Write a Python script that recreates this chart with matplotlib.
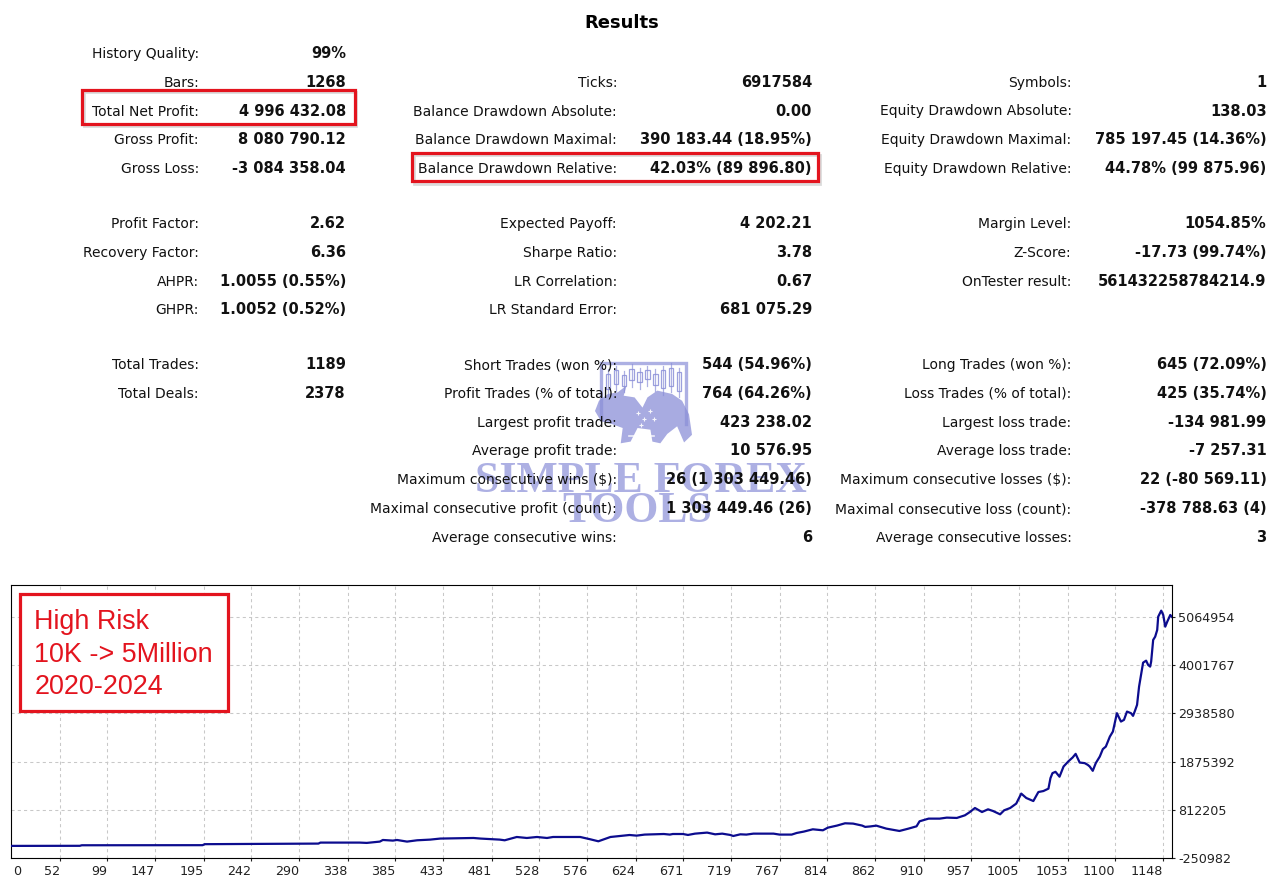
import matplotlib
matplotlib.use("Agg")
import matplotlib.pyplot as plt
from matplotlib.patches import Rectangle, Polygon

# ---------------- data ----------------
title = "Results"

col1_labels = ["History Quality:", "Bars:", "Total Net Profit:", "Gross Profit:", "Gross Loss:",
               "Profit Factor:", "Recovery Factor:", "AHPR:", "GHPR:",
               "Total Trades:", "Total Deals:", "", "", "", "", ""]
col1_values = ["99%", "1268", "4 996 432.08", "8 080 790.12", "-3 084 358.04",
               "2.62", "6.36", "1.0055 (0.55%)", "1.0052 (0.52%)",
               "1189", "2378", "", "", "", "", ""]

col2_labels = ["", "Ticks:", "Balance Drawdown Absolute:", "Balance Drawdown Maximal:",
               "Balance Drawdown Relative:",
               "Expected Payoff:", "Sharpe Ratio:", "LR Correlation:", "LR Standard Error:",
               "Short Trades (won %):", "Profit Trades (% of total):", "Largest profit trade:",
               "Average profit trade:", "Maximum consecutive wins ($):",
               "Maximal consecutive profit (count):", "Average consecutive wins:"]
col2_values = ["", "6917584", "0.00", "390 183.44 (18.95%)", "42.03% (89 896.80)",
               "4 202.21", "3.78", "0.67", "681 075.29",
               "544 (54.96%)", "764 (64.26%)", "423 238.02", "10 576.95",
               "26 (1 303 449.46)", "1 303 449.46 (26)", "6"]

col3_labels = ["", "Symbols:", "Equity Drawdown Absolute:", "Equity Drawdown Maximal:",
               "Equity Drawdown Relative:",
               "Margin Level:", "Z-Score:", "OnTester result:", "",
               "Long Trades (won %):", "Loss Trades (% of total):", "Largest loss trade:",
               "Average loss trade:", "Maximum consecutive losses ($):",
               "Maximal consecutive loss (count):", "Average consecutive losses:"]
col3_values = ["", "1", "138.03", "785 197.45 (14.36%)", "44.78% (99 875.96)",
               "1054.85%", "-17.73 (99.74%)", "561432258784214.9", "",
               "645 (72.09%)", "425 (35.74%)", "-134 981.99", "-7 257.31",
               "22 (-80 569.11)", "-378 788.63 (4)", "3"]

highlight_rows = [("col1", 2), ("col2", 4)]

note_lines = ["High Risk", "10K -> 5Million", "2020-2024"]
watermark_lines = ["SIMPLE FOREX", "TOOLS"]

# equity curve (deal index, balance)
deal = [4, 72, 74, 194, 196, 309, 311, 350, 357, 370, 373, 383, 387, 397, 407, 420, 430,
        463, 470, 489, 494, 506, 516, 526, 536, 542, 569, 579, 587, 599, 618, 625, 633,
        652, 658, 661, 671, 676, 683, 695, 703, 710, 718, 721, 728, 734, 741, 761, 767,
        779, 784, 791, 800, 810, 815, 824, 832, 840, 849, 852, 857, 863, 873, 886, 895,
        903, 906, 915, 926, 933, 943, 951, 956, 961, 968, 974, 979, 986, 990, 996, 1002,
        1007, 1012, 1019, 1024, 1029, 1034, 1036, 1038, 1041, 1045, 1049, 1054, 1058,
        1061, 1065, 1070, 1073, 1075, 1078, 1081, 1085, 1088, 1091, 1095, 1098, 1102,
        1106, 1109, 1112, 1116, 1118, 1120, 1122, 1124, 1126, 1128, 1131, 1133, 1135,
        1136, 1138, 1140, 1142, 1143, 1146, 1148, 1150, 1152, 1155, 1157]
balance = [10000, 12000, 24000, 26000, 48000, 61000, 83000, 83000, 76000, 105000, 141000,
           127000, 141000, 105000, 134000, 149000, 172000, 185000, 172000, 149000, 134000,
           207000, 185000, 207000, 185000, 207000, 207000, 156000, 112000, 207000, 251000,
           237000, 260000, 273000, 260000, 273000, 273000, 252000, 281000, 304000, 266000,
           281000, 252000, 229000, 266000, 260000, 281000, 281000, 260000, 260000, 296000,
           326000, 377000, 355000, 414000, 459000, 510000, 503000, 459000, 430000, 440000,
           458000, 392000, 340000, 392000, 443000, 554000, 613000, 613000, 635000, 628000,
           686000, 759000, 848000, 759000, 819000, 781000, 708000, 797000, 848000, 945000,
           1166000, 1069000, 1002000, 1201000, 1223000, 1276000, 1508000, 1619000,
           1648000, 1540000, 1765000, 1884000, 1964000, 2045000, 1853000, 1840000,
           1802000, 1765000, 1670000, 1840000, 1986000, 2149000, 2206000, 2427000,
           2538000, 2944000, 2759000, 2796000, 2980000, 2944000, 2885000, 3002000,
           3128000, 3532000, 3790000, 4062000, 4106000, 4011000, 3974000, 4084000,
           4564000, 4636000, 4784000, 5078000, 5211000, 5116000, 4857000, 4968000,
           5116000, 5065000]

x_ticks = [0, 52, 99, 147, 195, 242, 290, 338, 385, 433, 481, 528, 576, 624, 671, 719,
           767, 814, 862, 910, 957, 1005, 1053, 1100, 1148]
y_ticks = [-250982, 812205, 1875392, 2938580, 4001767, 5064954]

# ---------------- layout ----------------
W, H = 1283, 896
def fx(x):
    return x / W
def fy(y):
    return 1 - y / H

fig = plt.figure(figsize=(W / 100, H / 100), dpi=100)
fig.patch.set_facecolor("white")

row_baselines = [58.3, 86.9, 115.5, 144.3, 173.2, 228.3, 256.9, 285.5, 314.1,
                 369.0, 397.7, 426.6, 455.3, 484.2, 513.2, 542.1]
cols = {
    "col1": (col1_labels, col1_values, 199, 346),
    "col2": (col2_labels, col2_values, 617, 812),
    "col3": (col3_labels, col3_values, 1071.5, 1266.5),
}

fig.text(fx(622), fy(28), title, ha="center", va="baseline", fontsize=13,
         fontweight="bold", color="black", zorder=4)

for key, (labs, vals, lx, vx) in cols.items():
    for i, (lab, val) in enumerate(zip(labs, vals)):
        if lab:
            fig.text(fx(lx), fy(row_baselines[i]), lab, ha="right", va="baseline",
                     fontsize=10, color="#111111", zorder=4)
        if val:
            fig.text(fx(vx), fy(row_baselines[i]), val, ha="right", va="baseline",
                     fontsize=10.5, fontweight="bold", color="#111111", zorder=4)

# red highlight boxes around rows
box_specs = {("col1", 2): (81.5, 90.5, 354.5, 124.5), ("col2", 4): (411.5, 153.3, 817.8, 181.5)}
red = "#e3141e"
for key in highlight_rows:
    x0, y0, x1, y1 = box_specs[key]
    fig.add_artist(Rectangle((fx(x0 + 2), fy(y1 + 2)), fx(x1 - x0), (y1 - y0) / H,
                             transform=fig.transFigure, facecolor="none",
                             edgecolor="#999999", lw=2.0, alpha=0.35, zorder=4))
    fig.add_artist(Rectangle((fx(x0), fy(y1)), fx(x1 - x0), (y1 - y0) / H,
                             transform=fig.transFigure, facecolor="none",
                             edgecolor=red, lw=2.3, zorder=5))

# watermark
wm_color = "#8b8fd8"
fig.text(fx(640.5), fy(492), watermark_lines[0], ha="center", va="baseline",
         fontsize=31.5, fontweight="bold", family="Liberation Serif",
         color=wm_color, alpha=0.7, zorder=2)
fig.text(fx(637.5), fy(522), watermark_lines[1], ha="center", va="baseline",
         fontsize=31.5, fontweight="bold", family="Liberation Serif",
         color=wm_color, alpha=0.7, zorder=2)

lax = fig.add_axes([fx(593), fy(445), (692 - 593) / W, (445 - 360) / H])
lax.set_xlim(0, 1)
lax.set_ylim(0, 1)
lax.axis("off")
lax.patch.set_alpha(0)
lax.set_zorder(1)
# frame
lax.plot([0.08, 0.08, 0.94, 0.94], [0.30, 0.97, 0.97, 0.25], color=wm_color, lw=2.4,
         alpha=0.7, solid_joinstyle="miter")
# candles
cx = [0.15, 0.23, 0.31, 0.39, 0.47, 0.55, 0.63, 0.71, 0.79, 0.87]
cb = [0.66, 0.72, 0.70, 0.76, 0.74, 0.78, 0.71, 0.67, 0.70, 0.64]
ct = [0.84, 0.88, 0.82, 0.90, 0.86, 0.88, 0.84, 0.88, 0.91, 0.86]
for x, b, t in zip(cx, cb, ct):
    lax.plot([x, x], [b - 0.08, t + 0.05], color=wm_color, lw=0.9, alpha=0.7)
    lax.add_patch(Rectangle((x - 0.022, b), 0.044, t - b, facecolor="white",
                            edgecolor=wm_color, lw=0.9, alpha=0.85))
bull = [(0.02, 0.40), (0.06, 0.52), (0.15, 0.60), (0.25, 0.62), (0.34, 0.70), (0.31, 0.58),
        (0.42, 0.56), (0.50, 0.44), (0.55, 0.56), (0.65, 0.64), (0.80, 0.60), (0.90, 0.52),
        (0.97, 0.36), (1.0, 0.12), (0.92, 0.03), (0.85, 0.22), (0.75, 0.13), (0.68, 0.02),
        (0.60, 0.04), (0.58, 0.18), (0.45, 0.20), (0.38, 0.04), (0.28, 0.02), (0.30, 0.20),
        (0.18, 0.25), (0.08, 0.28)]
lax.add_patch(Polygon(bull, closed=True, facecolor=wm_color, edgecolor="none", alpha=0.75))
for (sx, sy) in [(0.45, 0.38), (0.52, 0.30), (0.58, 0.40), (0.48, 0.24), (0.62, 0.30)]:
    lax.plot(sx, sy, marker="+", color="white", ms=3, mew=0.8, alpha=0.9)
lax.plot([0.36, 0.62], [0.10, 0.10], color="white", lw=1.2, alpha=0.8)

# ---------------- equity chart ----------------
ax = fig.add_axes([fx(11), fy(858), (1172.3 - 11) / W, (858 - 585) / H])
ax.plot(deal, balance, color="#0c0c8e", lw=1.6, zorder=3, solid_joinstyle="round")
ax.set_xlim(3.7, 1157)
ax.set_ylim(-257600, 5778500)

ax.set_xticks(x_ticks[1:])
ax.set_xticklabels([str(t) for t in x_ticks[1:]], ha="right")
ax.set_yticks(y_ticks)
ax.set_yticklabels([str(t) for t in y_ticks])
ax.yaxis.tick_right()
ax.tick_params(axis="x", direction="out", length=2.2, width=0.8, pad=2.6,
               labelsize=9.2, colors="#222222")
ax.tick_params(axis="y", direction="out", length=2.2, width=0.8, pad=2.2,
               labelsize=9.2, colors="#222222")
ax.annotate(str(x_ticks[0]), xy=(0, 0), xycoords="axes fraction", xytext=(1.5, -4.8),
            textcoords="offset points", ha="left", va="top", fontsize=9.2, color="#222222")

ax.grid(True, color="#c8c8c8", linestyle=(0, (3, 3)), linewidth=0.75, zorder=0)
ax.set_axisbelow(True)
for s in ax.spines.values():
    s.set_color("black")
    s.set_linewidth(0.8)

# annotation box
bx0, by0, bx1, by1 = 20.4, 593.7, 228.0, 711.3
fig.add_artist(Rectangle((fx(bx0 + 2), fy(by1 + 2)), fx(bx1 - bx0), (by1 - by0) / H,
                         transform=fig.transFigure, facecolor="#bbbbbb", edgecolor="none",
                         alpha=0.4, zorder=5))
fig.add_artist(Rectangle((fx(bx0), fy(by1)), fx(bx1 - bx0), (by1 - by0) / H,
                         transform=fig.transFigure, facecolor="white", edgecolor=red,
                         lw=2.3, zorder=6))
for line, yb in zip(note_lines, [629.3, 662.0, 694.3]):
    fig.text(fx(34.5), fy(yb), line, ha="left", va="baseline", fontsize=19.4,
             family="Liberation Sans", color=red, zorder=7)

fig.savefig("out.png", dpi=100)
